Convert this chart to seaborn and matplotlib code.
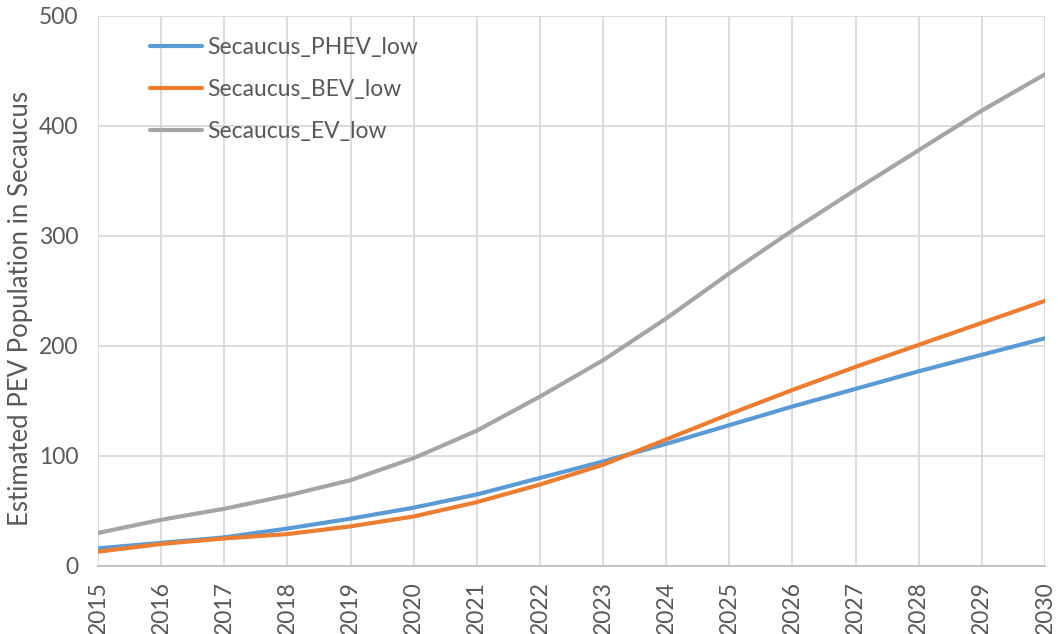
import pandas as pd
import seaborn as sns
import matplotlib.pyplot as plt

# =============================
#  Données
# =============================
years = list(range(2015, 2031))
phev_low = [16, 21, 26, 34, 43, 53, 65, 80, 95, 111, 128, 145, 161, 177, 192, 207]
bev_low = [13, 20, 25, 29, 36, 45, 58, 74, 92, 115, 138, 160, 181, 201, 221, 241]
ev_low = [30, 42, 52, 64, 78, 98, 123, 154, 187, 225, 266, 305, 342, 378, 414, 447]
series_names = ["Secaucus_PHEV_low", "Secaucus_BEV_low", "Secaucus_EV_low"]
colors = ["#5B9BD5", "#ED7D31", "#A5A5A5"]

df = pd.DataFrame({"year": years, series_names[0]: phev_low,
                   series_names[1]: bev_low, series_names[2]: ev_low})
long_df = df.melt(id_vars="year", var_name="serie", value_name="pop")

# =============================
#  Figure
# =============================
sns.set_style("white")
plt.rcParams["font.family"] = ["Lato", "DejaVu Sans"]
text_color = "#595959"

fig = plt.figure(figsize=(10.58, 6.34), dpi=100)
ax = fig.add_axes([0.0926, 0.1073, 0.8951, 0.8675])

sns.lineplot(data=long_df, x="year", y="pop", hue="serie", hue_order=series_names,
             palette=colors, linewidth=3, ax=ax)

ax.set_xlim(2015, 2030)
ax.set_ylim(0, 500)
ax.set_xticks(years)
ax.set_xticklabels([str(y) for y in years], rotation=90)
ax.set_yticks(range(0, 501, 100))
ax.grid(True, color="#D9D9D9", linewidth=1.3)
ax.set_axisbelow(True)
for side in ["top", "right", "left"]:
    ax.spines[side].set_visible(False)
ax.spines["bottom"].set_color("#BFBFBF")
ax.spines["bottom"].set_linewidth(1.3)
ax.tick_params(axis="both", length=0, labelsize=16.5, labelcolor=text_color)
ax.tick_params(axis="y", pad=14)
ax.tick_params(axis="x", pad=11)

ax.set_xlabel("")
ax.set_ylabel("Estimated PEV Population in Secaucus", fontsize=18.5, color=text_color)
ax.yaxis.set_label_coords(-0.069, 0.469)

leg = ax.legend(loc="upper left", bbox_to_anchor=(0.045, 0.978), frameon=False,
                fontsize=16.5, handlelength=2.3, handletextpad=0.2, labelspacing=0.92,
                borderaxespad=0)
for t in leg.get_texts():
    t.set_color(text_color)

plt.savefig("out.png", dpi=100)
plt.close()
